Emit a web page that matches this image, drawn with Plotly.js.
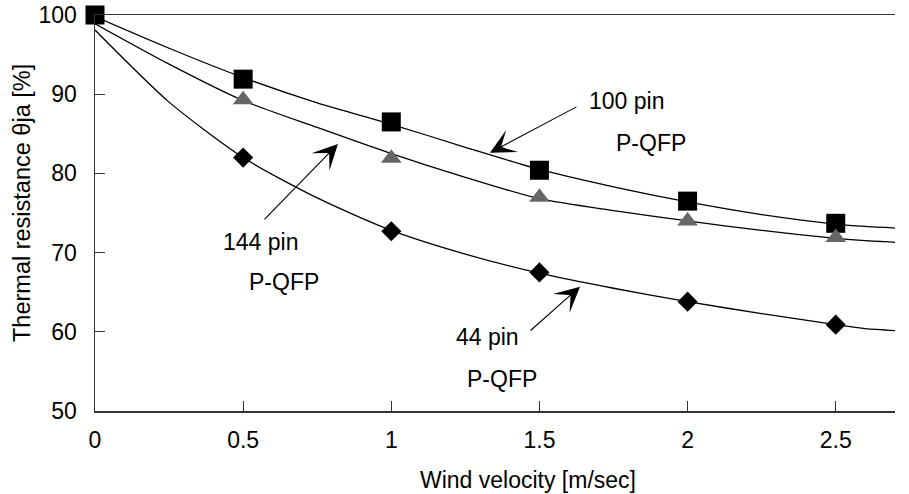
<!DOCTYPE html>
<html>
<head>
<meta charset="utf-8">
<script src="https://cdn.plot.ly/plotly-3.0.1.min.js"></script>
<style>html,body{margin:0;padding:0;background:#fff;}#chart{width:909px;height:494px;}</style>
</head>
<body>
<div id="chart"></div>
<script>
// Measured points
const velocity = [0, 0.5, 1, 1.5, 2, 2.5];
const velocitySub = [0.5, 1, 1.5, 2, 2.5];
const pin100 = [100, 91.9, 86.5, 80.4, 76.5, 73.7];
const pin144 = [89.3, 81.9, 77.0, 74.0, 71.9];
const pin44 = [82.0, 72.7, 67.5, 63.8, 60.9];

// Fitted curves
const fitX = [0, 0.25, 0.5, 0.75, 1, 1.25, 1.5, 1.75, 2, 2.25, 2.5, 2.6, 2.7];
const fit100 = [99.8, 95.8, 92.1, 88.9, 86.2, 83.3, 80.5, 78.3, 76.4, 74.8, 73.6, 73.3, 73.1];
const fit144 = [98.9, 93.8, 89.2, 85.8, 82.5, 79.5, 76.8, 75.3, 74.0, 72.8, 71.8, 71.5, 71.3];
const fit44  = [98.1, 89.0, 82.0, 76.9, 72.8, 69.8, 67.4, 65.5, 63.8, 62.3, 60.9, 60.4, 60.15];

const xTicks = [0, 0.5, 1, 1.5, 2, 2.5];
const xTickText = ['0', '0.5', '1', '1.5', '2', '2.5'];
const yTicks = [50, 60, 70, 80, 90, 100];

const FONT = 'Liberation Sans, Arial, Helvetica, sans-serif';
const lineStyle = {color: '#000', width: 1.3, shape: 'spline', smoothing: 0.7};

const traces = [
  {x: fitX, y: fit100, mode: 'lines', line: lineStyle, hoverinfo: 'skip', showlegend: false},
  {x: fitX, y: fit144, mode: 'lines', line: lineStyle, hoverinfo: 'skip', showlegend: false},
  {x: fitX, y: fit44, mode: 'lines', line: lineStyle, hoverinfo: 'skip', showlegend: false},
  {x: velocity, y: pin100, mode: 'markers', name: '100 pin P-QFP', cliponaxis: false,
   marker: {symbol: 'square', size: 19, color: '#000', line: {width: 0}}, showlegend: false},
  {x: velocitySub, y: pin144, mode: 'markers', name: '144 pin P-QFP', cliponaxis: false,
   marker: {symbol: 'triangle-up', size: 18, color: '#666666', line: {width: 0}}, showlegend: false},
  {x: velocitySub, y: pin44, mode: 'markers', name: '44 pin P-QFP', cliponaxis: false,
   marker: {symbol: 'diamond', size: 15.5, color: '#000', line: {width: 0}}, showlegend: false}
];

function label(text, x, y) {
  return {text: text, x: x, y: y, xref: 'x', yref: 'y', showarrow: false,
          font: {family: FONT, size: 23, color: '#000'}, xanchor: 'center', yanchor: 'middle'};
}
function arrow(hx, hy, tx, ty) {
  return {text: '', x: hx, y: hy, xref: 'x', yref: 'y', ax: tx, ay: ty, axref: 'x', ayref: 'y',
          showarrow: true, arrowhead: 3, arrowsize: 3.8, arrowwidth: 1.1, arrowcolor: '#000', standoff: 0};
}

const layout = {
  width: 909, height: 494,
  margin: {l: 95, r: 14, t: 15, b: 83},
  paper_bgcolor: '#fff', plot_bgcolor: '#fff',
  font: {family: FONT, color: '#000'},
  showlegend: false,
  xaxis: {
    range: [0, 2.7], tickvals: xTicks, ticktext: xTickText,
    showgrid: false, zeroline: false, showline: true, linecolor: '#333', linewidth: 1.5,
    mirror: true, ticks: 'inside', ticklen: 10, tickcolor: '#333', tickwidth: 1.2,
    tickfont: {family: FONT, size: 23, color: '#000'}, ticklabelstandoff: 8
  },
  yaxis: {
    range: [50, 100], tickvals: yTicks,
    showgrid: false, zeroline: false, showline: true, linecolor: '#333', linewidth: 1.5,
    ticks: 'inside', ticklen: 10, tickcolor: '#333', tickwidth: 1.2,
    tickfont: {family: FONT, size: 23, color: '#000'}, ticklabelstandoff: 12
  },
  annotations: [
    label('100 pin', 1.795, 89.1),
    label('P-QFP', 1.876, 83.9),
    label('144 pin', 0.557, 71.4),
    label('P-QFP', 0.638, 66.3),
    label('44 pin', 1.323, 59.3),
    label('P-QFP', 1.374, 54.1),
    arrow(1.333, 82.6, 1.630, 88.5),
    arrow(0.820, 83.7, 0.567, 74.0),
    arrow(1.637, 65.7, 1.465, 60.0),
    {text: 'Wind velocity [m/sec]', xref: 'paper', yref: 'paper', x: (528 - 95) / 800, y: -(480 - 411) / 396,
     xanchor: 'center', yanchor: 'middle', showarrow: false, font: {family: FONT, size: 23, color: '#000'}},
    {text: 'Thermal resistance θja [%]', xref: 'paper', yref: 'paper', x: -(95 - 22) / 800, y: (411 - 203) / 396,
     xanchor: 'center', yanchor: 'middle', showarrow: false, textangle: -90, font: {family: FONT, size: 23.5, color: '#000'}}
  ]
};

Plotly.newPlot('chart', traces, layout, {displayModeBar: false, staticPlot: true});
</script>
</body>
</html>
